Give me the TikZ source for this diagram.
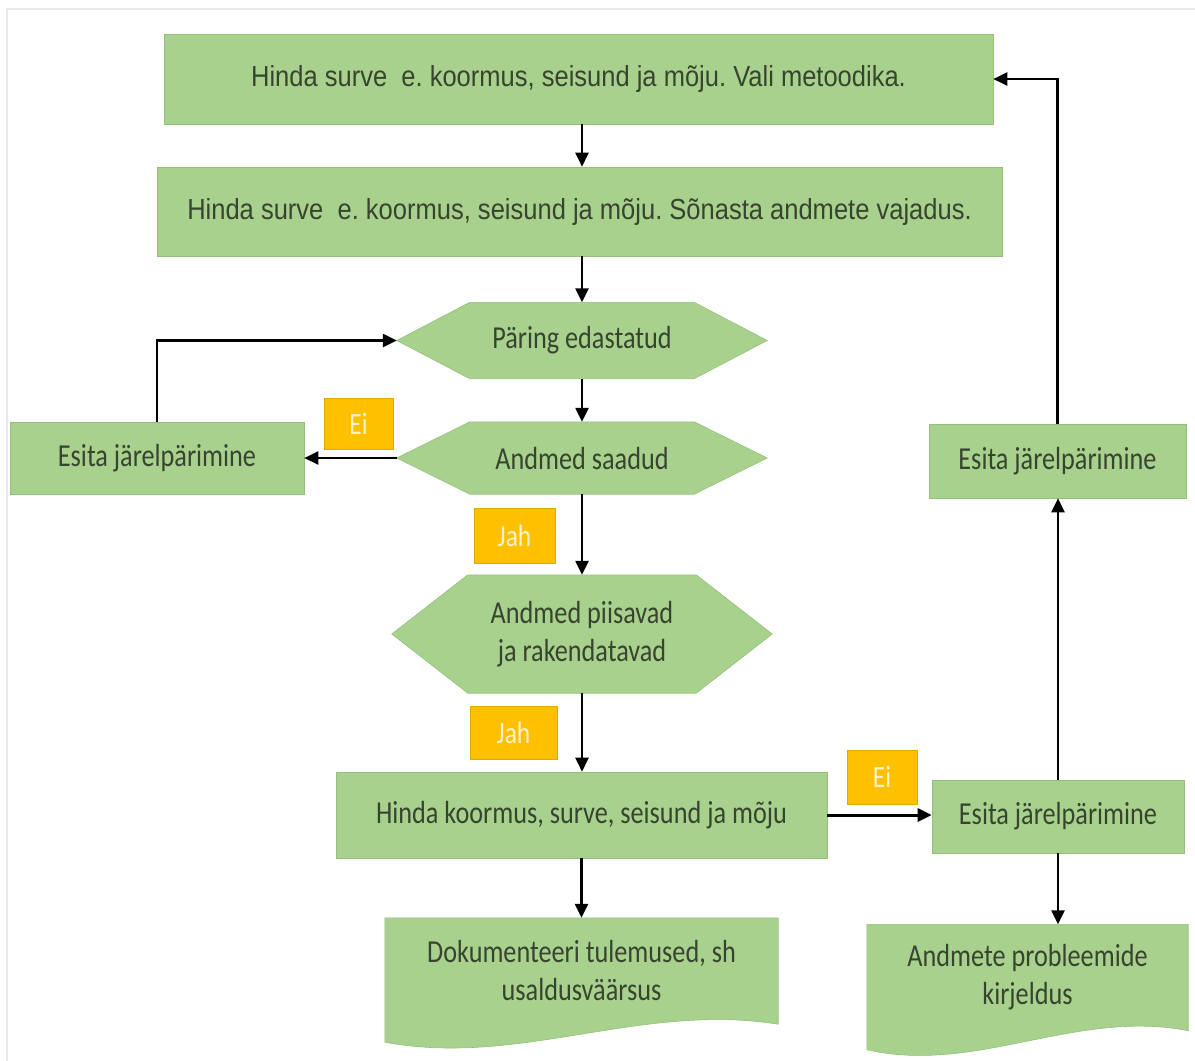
\documentclass[tikz,border=0pt]{standalone}
\usepackage{fontspec}
\setmainfont{Carlito}[FakeStretch=0.82]
\newfontfamily\narrowfont{Liberation Sans}[FakeStretch=0.88]
\usetikzlibrary{arrows.meta,backgrounds}
\frenchspacing

\definecolor{boxgreen}{RGB}{169,209,142}
\definecolor{boxedge}{RGB}{150,192,122}
\definecolor{txt}{RGB}{55,68,46}
\definecolor{labfill}{RGB}{255,192,0}
\definecolor{labedge}{RGB}{226,168,0}
\definecolor{labtext}{RGB}{255,243,204}
\definecolor{framegray}{RGB}{232,232,232}

\tikzset{
  shapebox/.style={rectangle, fill=boxgreen, draw=boxedge, line width=0.6pt,
    text=txt, inner sep=0pt, align=center},
  textonly/.style={rectangle, inner sep=0pt, text=txt, align=center},
  greenfill/.style={fill=boxgreen, draw=boxedge, line width=0.6pt},
  toptext/.style={font=\fontsize{29}{34}\narrowfont},
  bodytext/.style={font=\fontsize{32}{38}\selectfont},
  answer/.style={rectangle, fill=labfill, draw=labedge, line width=0.6pt,
    text=labtext, inner sep=0pt, font=\fontsize{31}{36}\selectfont},
  arr/.style={draw=black, line width=2.4pt, -{Triangle[length=14pt,width=13pt]}}
}

\begin{document}
\begin{tikzpicture}[x=1pt,y=-1pt]
\useasboundingbox (0,0) rectangle (1195,1061);
\draw[framegray, line width=1.5pt] (7,1061) -- (7,9) -- (1195,9);

% process boxes
\node[shapebox, toptext, minimum width=829pt, minimum height=90pt] (b1) at (578.5,79)
  {Hinda surve\ \ e. koormus, seisund ja mõju. Vali metoodika.};
\node[shapebox, toptext, minimum width=845pt, minimum height=89pt] (b2) at (579.5,211.5)
  {Hinda surve\ \ e. koormus, seisund ja mõju. Sõnasta andmete vajadus.};

% decision hexagons (outline drawn on the background layer)
\node[textonly, bodytext, minimum width=370pt, minimum height=76pt] (hp) at (582,340.5) {Päring edastatud};
\node[textonly, bodytext, minimum width=370pt, minimum height=72pt] (hs) at (582,458) {Andmed saadud};
\node[textonly, bodytext, minimum width=380pt, minimum height=118pt] (hr) at (582,634) {Andmed piisavad\\ja rakendatavad};

\node[shapebox, bodytext, minimum width=294pt, minimum height=72pt] (el) at (157,458) {Esita järelpärimine};
\node[shapebox, bodytext, minimum width=257pt, minimum height=74pt] (er1) at (1057.5,461) {Esita järelpärimine};
\node[shapebox, bodytext, minimum width=491pt, minimum height=86pt] (hk) at (581.5,815) {Hinda koormus, surve, seisund ja mõju};
\node[shapebox, bodytext, minimum width=252pt, minimum height=73pt] (er2) at (1058,816.5) {Esita järelpärimine};

% documents (wavy bottom drawn on the background layer)
\node[textonly, bodytext, minimum width=393pt, minimum height=105pt] (d1) at (581.5,970.5)
  {Dokumenteeri tulemused, sh\\usaldusväärsus};
\node[textonly, bodytext, minimum width=321pt, minimum height=105pt] (d2) at (1027.5,977)
  {Andmete probleemide\\kirjeldus};

\begin{scope}[on background layer]
  \foreach \n/\d in {hp/73, hs/73, hr/76}
    \path[greenfill] (\n.west) -- ([xshift=\d pt]\n.north west) -- ([xshift=-\d pt]\n.north east)
      -- (\n.east) -- ([xshift=-\d pt]\n.south east) -- ([xshift=\d pt]\n.south west) -- cycle;
  \path[greenfill] (d1.north west) -- (d1.north east) -- ([yshift=-1pt]d1.south east)
    .. controls +(-138,-22) and +(135,25) .. ([yshift=-19pt]d1.south west) -- cycle;
  \path[greenfill] (d2.north west) -- (d2.north east) -- ([yshift=-1pt]d2.south east)
    .. controls +(-112,-22) and +(109,25) .. ([yshift=-20pt]d2.south west) -- cycle;
\end{scope}

% answer labels
\node[answer, minimum width=69pt, minimum height=51pt] (ei1) at (358.5,423.5) {Ei};
\node[answer, minimum width=81pt, minimum height=55pt] (jah1) at (514.5,535.5) {Jah};
\node[answer, minimum width=87pt, minimum height=53pt] (jah2) at (513.5,732.5) {Jah};
\node[answer, minimum width=70pt, minimum height=54pt] (ei2) at (882,777) {Ei};

% connectors
\draw[arr] (b1.south -| hp.center) -- (b2.north -| hp.center);
\draw[arr] (b2.south -| hp.center) -- (hp.north);
\draw[arr] (hp.south) -- (hs.north);
\draw[arr] (hs.west) -- (el.east);
\draw[arr] (el.north) |- (hp.west);
\draw[arr] (hs.south) -- (hr.north);
\draw[arr] (hr.south) -- (hk.north -| hr.south);
\draw[arr, line width=3pt] (hk.east) -- (hk.east -| er2.west);
\draw[arr] (er2.north) -- (er2.north |- er1.south);
\draw[arr] (er1.north) |- (b1.east);
\draw[arr] (hk.south) -- (hk.south |- d1.north);
\draw[arr] (er2.south) -- (er2.south |- d2.north);
\end{tikzpicture}
\end{document}
